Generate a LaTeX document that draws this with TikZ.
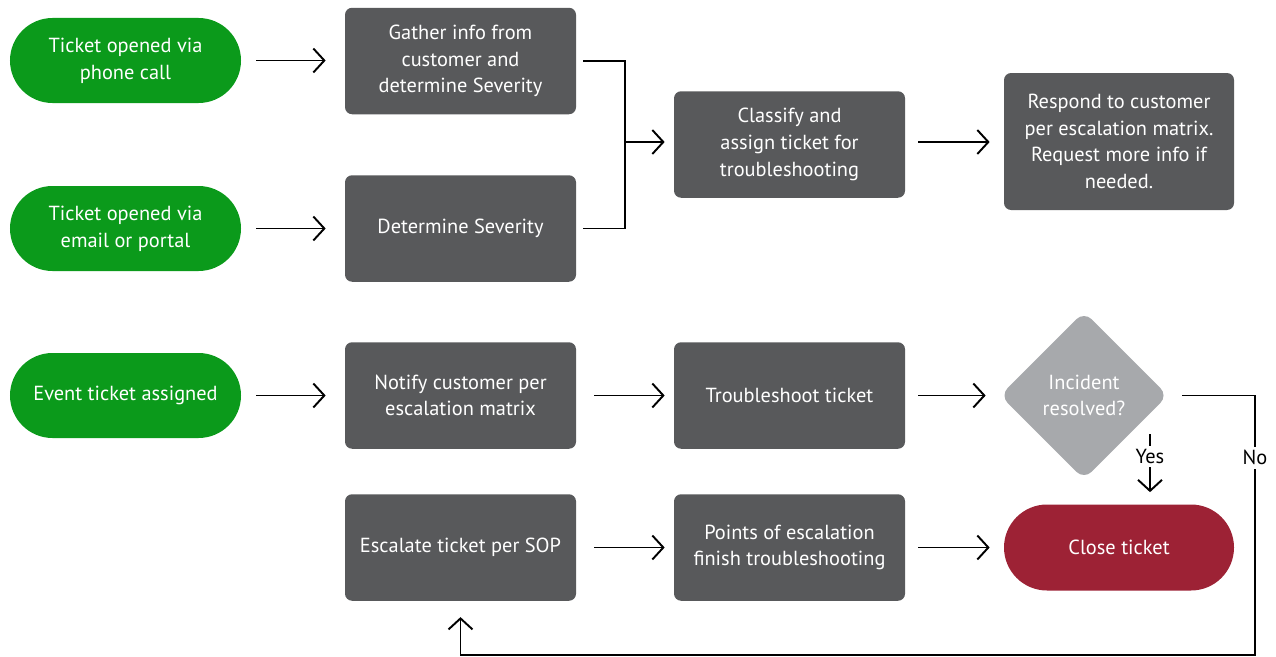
\documentclass[tikz,border=0pt]{standalone}
\usepackage{fontspec}
\setmainfont{PT Sans}
\usetikzlibrary{arrows.meta,calc,positioning,shapes.geometric}
\definecolor{FlowGreen}{HTML}{0B9A1B}
\definecolor{FlowGray}{HTML}{58595B}
\definecolor{FlowLight}{HTML}{A7A9AC}
\definecolor{FlowRed}{HTML}{9D2235}
\tikzset{
  every node/.style={font=\fontsize{11.6}{15.2}\selectfont, align=center},
  start/.style={fill=FlowGreen, text=white, minimum width=4.62cm, minimum height=1.7cm, rounded corners=0.85cm},
  task/.style={fill=FlowGray, text=white, minimum width=4.62cm, minimum height=2.13cm, rounded corners=4pt},
  decision/.style={diamond, aspect=1, fill=FlowLight, text=white, minimum size=3.36cm, rounded corners=6pt, inner sep=0pt},
  stop/.style={fill=FlowRed, text=white, minimum width=4.6cm, minimum height=1.72cm, rounded corners=0.86cm},
  link/.style={draw=black, line width=1.1pt},
  flow/.style={link, -{Straight Barb[length=2.2mm,width=4.8mm]}, shorten <=0.3cm, shorten >=0.3cm},
  tag/.style={fill=white, inner sep=2pt},
}
\begin{document}
\begin{tikzpicture}[x=1cm,y=1cm]
  \useasboundingbox (0,0) rectangle (25.52,13.12);

  % Entry points
  \node[start] (phone) at (2.51,11.91) {Ticket opened via\\phone call};
  \node[start] (email) at (2.51,8.55) {Ticket opened via\\email or portal};
  \node[start] (event) at (2.51,5.21) {Event ticket assigned};

  % Second column
  \node[task] (gather) at (9.21,11.9) {Gather info from\\customer and\\determine Severity};
  \node[task] (severity) at (9.21,8.55) {Determine Severity};
  \node[task] (notify) at (9.21,5.21) {Notify customer per\\escalation matrix};
  \node[task] (escalate) at (9.21,2.17) {Escalate ticket per SOP};

  % Third column
  \node[task] (classify) at (15.79,10.23) {Classify and\\assign ticket for\\troubleshooting};
  \node[task] (trouble) at (15.79,5.21) {Troubleshoot ticket};
  \node[task] (points) at (15.79,2.17) {Points of escalation\\finish troubleshooting};

  % Fourth column
  \node[task, minimum width=4.6cm, minimum height=2.74cm] (respond) at (22.38,10.29) {Respond to customer\\per escalation matrix.\\Request more info if\\needed.};
  \node[decision] (incident) at (21.68,5.21) {Incident\\resolved?};
  \node[stop] (close) at (22.38,2.17) {Close ticket};

  % Arrows
  \draw[flow, shorten >=0.38cm] (phone) -- (phone -| gather.west);
  \draw[flow, shorten >=0.38cm] (email) -- (email -| severity.west);
  \draw[flow, shorten >=0.38cm] (event) -- (event -| notify.west);
  \coordinate (join) at (12.5,10.28);
  \draw[link] ([xshift=0.14cm]gather.east) -| (join) |- ([xshift=0.14cm]severity.east);
  \draw[flow, shorten <=0pt, shorten >=0.18cm] (join) -- (join -| classify.west);
  \draw[flow, shorten <=0.26cm, shorten >=0.28cm] (classify.east |- join) -- (respond.west |- join);
  \draw[flow, shorten <=0.36cm, shorten >=0.18cm] (notify) -- (trouble);
  \draw[flow, shorten <=0.26cm, shorten >=0.28cm] (trouble) -- (trouble -| incident.west);
  \draw[flow, shorten <=0.36cm, shorten >=0.18cm] (escalate) -- (points);
  \draw[flow, shorten <=0.26cm, shorten >=0.28cm] (points.east) -- (points -| close.west);

  % Yes / No branches
  \coordinate (yestop) at (23.0,4.44);
  \draw[flow, shorten <=0pt, shorten >=0.24cm] (yestop) -- (yestop |- close.north) node[tag, pos=0.32] {Yes};
  \coordinate (noright) at (25.1,0.02);
  \draw[flow, shorten <=0.28cm, shorten >=0.32cm] (incident.east) -| (noright) node[tag, pos=0.62] {No} -| (escalate.south);
\end{tikzpicture}
\end{document}
